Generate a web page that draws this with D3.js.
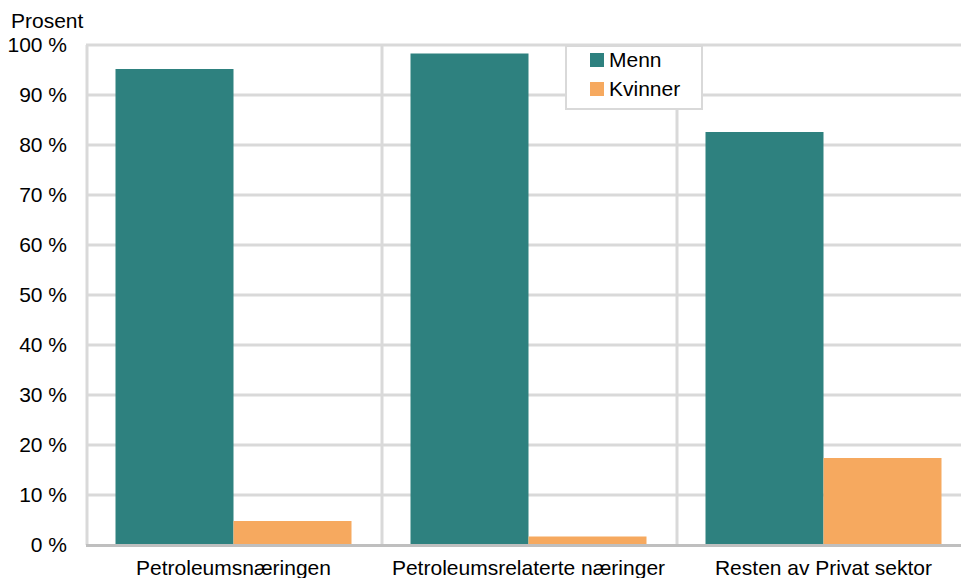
<!DOCTYPE html>
<html>
<head>
<meta charset="utf-8">
<script src="https://cdnjs.cloudflare.com/ajax/libs/d3/7.8.5/d3.min.js"></script>
<style>
  body { margin: 0; background: #fff; }
  text { font-family: "Liberation Sans", Arial, sans-serif; fill: #000; }
</style>
</head>
<body>
<div id="chart"></div>
<script>
// categories and series
const categories = ["Petroleumsnæringen", "Petroleumsrelaterte næringer", "Resten av Privat sektor"];
const menn = [95.2, 98.3, 82.6];
const kvinner = [4.8, 1.7, 17.4];
const seriesNames = ["Menn", "Kvinner"];
const yTicks = [0, 10, 20, 30, 40, 50, 60, 70, 80, 90, 100];

const colors = {Menn: "#2e817f", Kvinner: "#f6a95f"};

const W = 961, H = 578;
const margin = {top: 45, right: -10, bottom: 33, left: 86};
const width = W - margin.left - margin.right,
      height = H - margin.top - margin.bottom;
const fs = 21;

const svg = d3.select("#chart")
    .append("svg")
    .attr("width", W)
    .attr("height", H);

const g = svg.append("g")
    .attr("transform", "translate(" + margin.left + "," + margin.top + ")");

// build rows for the grouped bars
const rows = categories.map((c, i) => ({cat: c, Menn: menn[i], Kvinner: kvinner[i]}));

const x0 = d3.scaleBand()
    .domain(categories)
    .range([0, width])
    .paddingInner(0)
    .paddingOuter(0);

const x1 = d3.scaleBand()
    .domain(seriesNames)
    .range([29.5, x0.bandwidth() - 29.5]);

const y = d3.scaleLinear()
    .domain([0, 100])
    .range([height, 0]);

// horizontal gridlines
g.append("g")
    .selectAll("line")
    .data(yTicks.filter(d => d > 0))
    .join("line")
    .attr("x1", 0)
    .attr("x2", width)
    .attr("y1", d => y(d))
    .attr("y2", d => y(d))
    .attr("stroke", "#d9d9d9")
    .attr("stroke-width", 3);

// vertical gridlines (category separators)
g.append("g")
    .selectAll("line")
    .data(categories)
    .join("line")
    .attr("x1", d => x0(d) + 1)
    .attr("x2", d => x0(d) + 1)
    .attr("y1", y(100))
    .attr("y2", y(0))
    .attr("stroke", "#d9d9d9")
    .attr("stroke-width", 3);

// bars
g.append("g")
    .selectAll("g")
    .data(rows)
    .join("g")
    .attr("transform", d => "translate(" + x0(d.cat) + ",0)")
    .selectAll("rect")
    .data(d => seriesNames.map(k => ({key: k, value: d[k]})))
    .join("rect")
    .attr("x", d => x1(d.key))
    .attr("y", d => y(d.value))
    .attr("width", x1.bandwidth())
    .attr("height", d => y(0) - y(d.value))
    .attr("fill", d => colors[d.key]);

// baseline
g.append("line")
    .attr("x1", 0)
    .attr("x2", width)
    .attr("y1", y(0) + 0.5)
    .attr("y2", y(0) + 0.5)
    .attr("stroke", "#bfbfbf")
    .attr("stroke-width", 3);

// y axis labels
const yAxis = g.append("g")
    .attr("transform", "translate(-16,0)")
    .call(d3.axisLeft(y).tickValues(yTicks).tickSize(0).tickFormat(d => d + " %"));
yAxis.select(".domain").remove();
yAxis.selectAll("text")
    .attr("font-size", fs)
    .attr("font-family", "Liberation Sans, Arial, sans-serif")
    .attr("fill", "#000");

// x axis labels
const xAxis = g.append("g")
    .attr("transform", "translate(0," + height + ")")
    .call(d3.axisBottom(x0).tickSize(0).tickPadding(15));
xAxis.select(".domain").remove();
xAxis.selectAll("text")
    .attr("font-size", fs)
    .attr("font-family", "Liberation Sans, Arial, sans-serif")
    .attr("fill", "#000");

// unit title
svg.append("text")
    .attr("x", 11)
    .attr("y", 28)
    .attr("font-size", fs)
    .text("Prosent");

// legend
const legend = svg.append("g").attr("transform", "translate(566,46)");
legend.append("rect")
    .attr("width", 136)
    .attr("height", 63)
    .attr("fill", "#fff")
    .attr("stroke", "#d9d9d9")
    .attr("stroke-width", 2);
const li = legend.selectAll("g.item")
    .data(seriesNames)
    .join("g")
    .attr("class", "item")
    .attr("transform", (d, i) => "translate(24," + (7 + i * 29) + ")");
li.append("rect")
    .attr("width", 14)
    .attr("height", 14)
    .attr("fill", d => colors[d]);
li.append("text")
    .attr("x", 19)
    .attr("y", 14)
    .attr("font-size", fs)
    .text(d => d);
</script>
</body>
</html>
